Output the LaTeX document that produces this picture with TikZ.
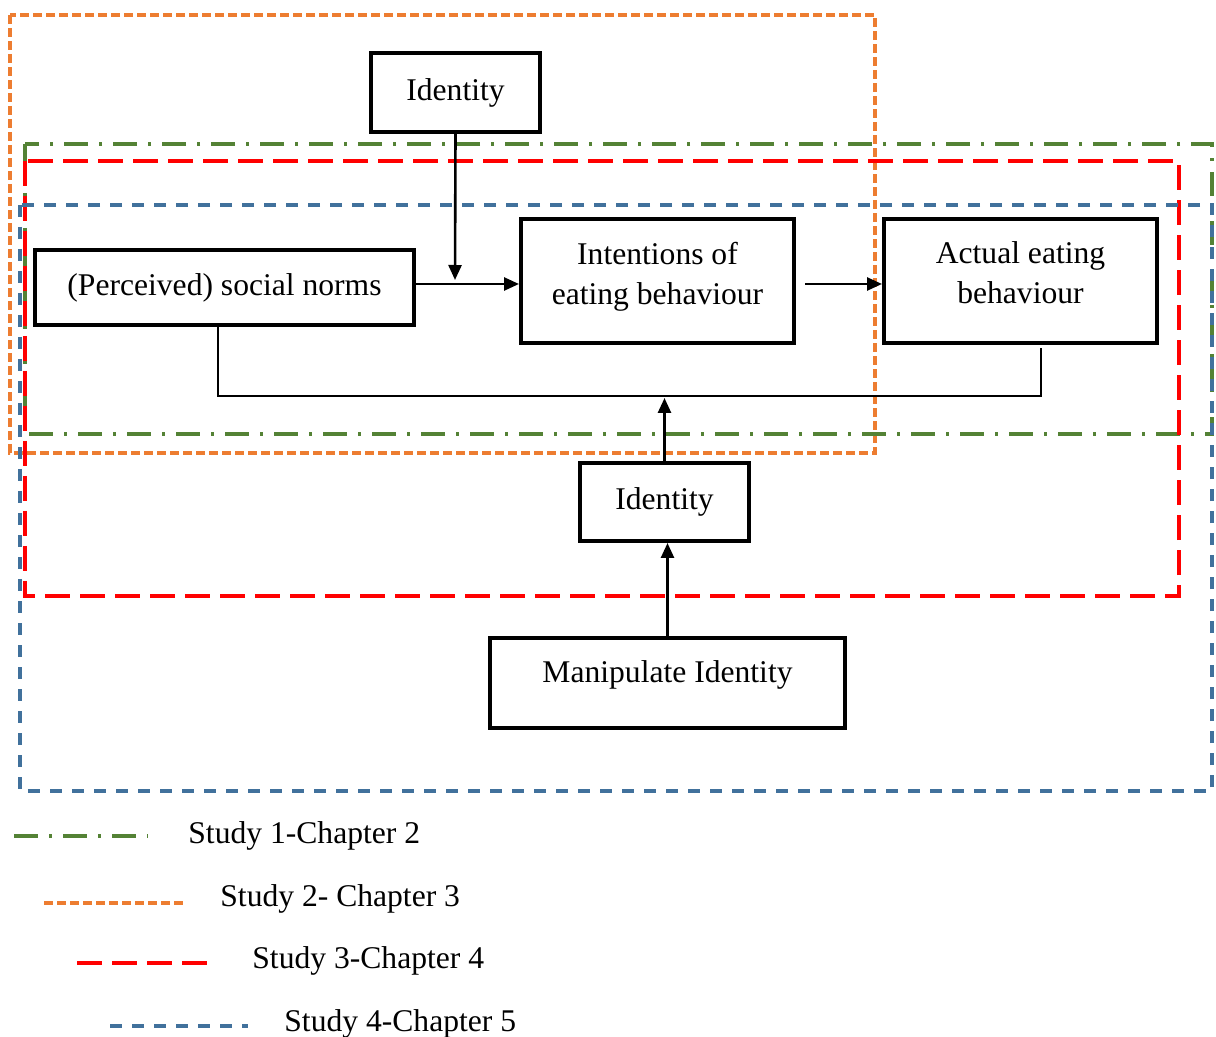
\documentclass[tikz,border=0pt]{standalone}
\usepackage{fontspec}
\setmainfont{Liberation Serif}
\usepackage{tikz}
\usetikzlibrary{arrows.meta}

\definecolor{studyone}{HTML}{548235}
\definecolor{studytwo}{HTML}{ED7D31}
\definecolor{studythree}{HTML}{FF0000}
\definecolor{studyfour}{HTML}{41719C}

\begin{document}
\begin{tikzpicture}[x=0.5pt,y=-0.5pt,
    font=\fontsize{15.8}{20}\selectfont,
    box/.style 2 args={draw,line width=2pt,minimum width=#1*0.5pt,minimum height=#2*0.5pt,inner sep=0pt,align=center},
    arr/.style={line width=1.3pt,-{Triangle[length=7.5pt,width=6.5pt]}},
    plain/.style={line width=1.3pt},
    sone/.style={studyone,line width=1.6pt,dash pattern=on 12pt off 5.5pt on 1.5pt off 5.5pt},
    stwo/.style={studytwo,line width=1.6pt,dash pattern=on 4.5pt off 2pt},
    sthree/.style={studythree,line width=1.6pt,dash pattern=on 12.5pt off 5pt},
    sfour/.style={studyfour,line width=1.6pt,dash pattern=on 6pt off 5pt}]

    \useasboundingbox (0,0) rectangle (1216,1037);

    % Draw the study frames
    \draw[stwo] (10,15) rectangle (875,453);
    \draw[sone] (25,144) rectangle (1212,434);
    \draw[sthree] (25,161) rectangle (1179,596);
    \draw[sfour] (20,205) rectangle (1212,791);

    % Draw the boxes
    \node[box={169}{79}] (idtop) at (455.5,92.5) {Identity};
    \node[box={379}{75}] (norms) at (224.5,287.5) {(Perceived) social norms};
    \node[box={273}{124},text depth=8pt] (intent) at (657.5,281) {Intentions of\\eating behaviour};
    \node[box={273}{124},text depth=8pt] (actual) at (1020.5,281) {Actual eating\\behaviour};
    \node[box={169}{78}] (idmid) at (664.5,502) {Identity};
    \node[box={355}{90},text depth=11pt] (manip) at (667.5,683) {Manipulate Identity};

    % Points on the paths
    \coordinate (jn) at (455,280);
    \coordinate (rowy) at (0,284);
    \coordinate (fbl) at (218,396);
    \coordinate (fbr) at (1041,396);

    % Draw the arrows
    \draw[arr] (idtop.south) -- (jn);
    \draw[arr] (norms.east |- rowy) -- (intent.west |- rowy);
    \draw[arr,shorten <=4.5pt] (intent.east |- rowy) -- (actual.west |- rowy);
    \draw[plain] (norms.south -| fbl) -- (fbl) -- (fbr) -- ([yshift=-1.5pt]actual.south -| fbr);
    \draw[arr,shorten >=1pt] (idmid.north) -- (idmid.north |- fbl);
    \draw[arr] (manip.north) -- (manip.north |- idmid.south);

    % Draw the legend
    \draw[sone] (14,836) -- (148,836);
    \draw[stwo] (44,903) -- (183,903);
    \draw[sthree] (77,963) -- (208,963);
    \draw[sfour] (110,1026) -- (248,1026);
    \node[anchor=west,inner sep=0pt] (lgone) at (188,836) {Study 1-Chapter 2};
    \node[anchor=west,inner sep=0pt] (lgtwo) at (220,899) {Study 2- Chapter 3};
    \node[anchor=west,inner sep=0pt] (lgthree) at (252,961) {Study 3-Chapter 4};
    \node[anchor=west,inner sep=0pt] (lgfour) at (284,1024) {Study 4-Chapter 5};
\end{tikzpicture}
\end{document}
